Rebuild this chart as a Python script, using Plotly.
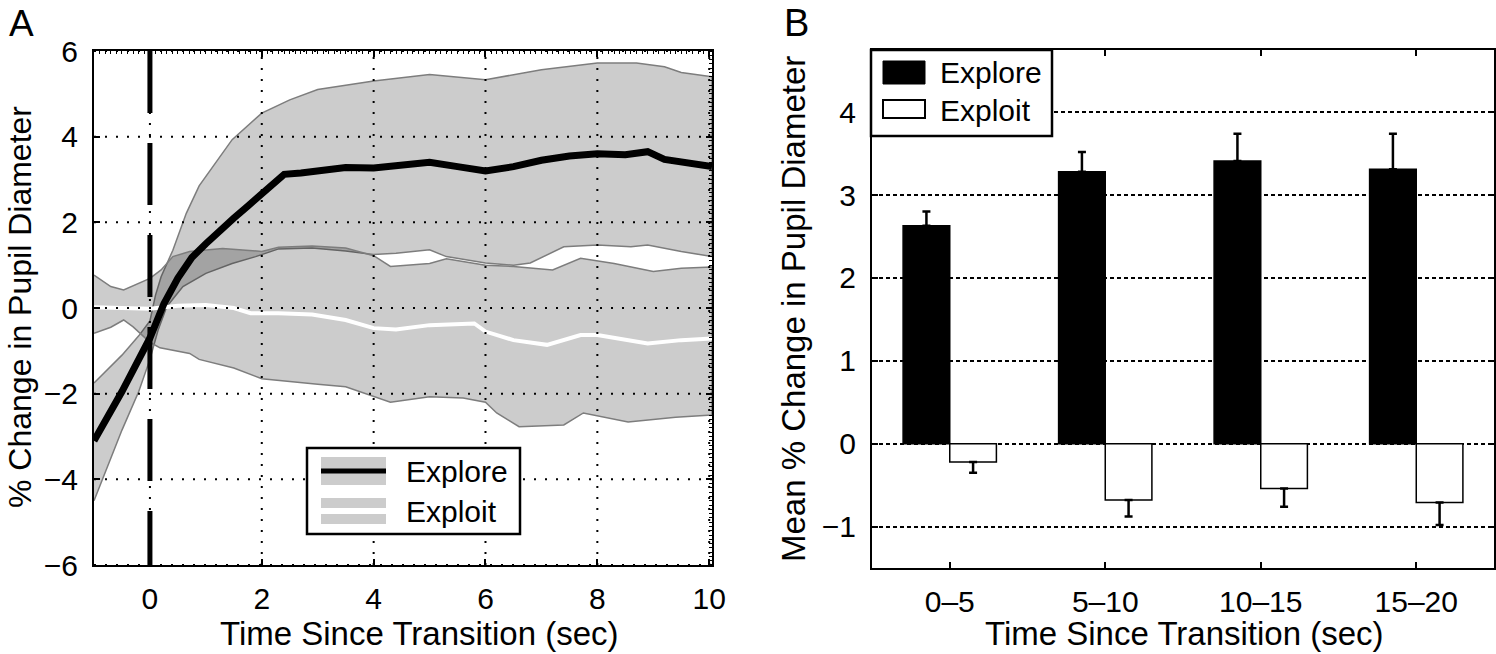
import plotly.graph_objects as go

W, H = 1496, 654
FONT = "Liberation Sans, Arial, Helvetica, sans-serif"

# ---------------- Panel A data (time since transition, % change) ----------------
T_EXPLORE_MEAN = [-1, -0.5, 0, 0.25, 0.5, 0.75, 1.0, 1.25, 1.5, 1.75, 2.0, 2.25, 2.4, 2.7, 3.0, 3.5,
                  4.0, 4.5, 5.0, 5.5, 6.0, 6.5, 7.0, 7.5, 8.0, 8.5, 8.9, 9.2, 9.6, 10.05]
EXPLORE_MEAN = [-3.1, -1.95, -0.7, 0.1, 0.7, 1.18, 1.5, 1.82, 2.1, 2.38, 2.68, 2.98, 3.12, 3.15, 3.2, 3.28,
                3.27, 3.35, 3.4, 3.3, 3.2, 3.3, 3.45, 3.55, 3.6, 3.58, 3.65, 3.47, 3.38, 3.3]

T_EXPLORE_UP = [-1, -0.5, -0.2, 0, 0.1, 0.2, 0.41, 0.65, 0.88, 1.0, 1.47, 2.0, 2.5, 3.0, 3.5, 4.0,
                5.0, 6.0, 7.0, 8.0, 8.7, 9.2, 9.5, 10.05]
EXPLORE_UP = [-1.75, -1.1, -0.65, -0.3, 0.3, 0.73, 1.35, 2.21, 2.85, 3.07, 3.93, 4.55, 4.86, 5.1, 5.2, 5.3,
              5.45, 5.33, 5.56, 5.72, 5.72, 5.63, 5.5, 5.4]

T_EXPLORE_LO = [-1, -0.5, -0.2, 0, 0.15, 0.3, 0.59, 1.0, 1.47, 1.89, 2.3, 2.9, 3.5, 4.0, 4.4, 5.0, 5.3,
                6.0, 6.5, 6.8, 7.4, 8.0, 8.6, 8.9, 9.5, 10.05]
EXPLORE_LO = [-4.5, -2.85, -1.95, -1.2, -0.5, 0.03, 0.5, 0.81, 1.04, 1.2, 1.38, 1.4, 1.33, 1.25, 1.28, 1.36, 1.2,
              1.05, 1.0, 1.05, 1.43, 1.47, 1.43, 1.47, 1.32, 1.2]

T_EXPLOIT_MEAN = [-1, -0.5, 0, 0.5, 1.0, 1.5, 1.8, 2.3, 2.9, 3.5, 4.0, 4.4, 5.0, 5.8, 6.0, 6.5, 7.1, 7.7,
                  8.0, 8.9, 9.5, 10.05]
EXPLOIT_MEAN = [0.02, 0.0, -0.02, 0.05, 0.07, 0.0, -0.12, -0.12, -0.15, -0.28, -0.47, -0.5, -0.4, -0.36, -0.55,
                -0.75, -0.86, -0.63, -0.63, -0.83, -0.75, -0.71]

T_EXPLOIT_UP = [-1, -0.7, -0.47, -0.18, 0, 0.2, 0.41, 0.71, 1.3, 2.0, 2.3, 2.9, 3.5, 4.0, 4.3, 5.0, 5.3,
                6.0, 6.5, 7.2, 7.7, 8.3, 9.0, 9.5, 10.05]
EXPLOIT_UP = [0.77, 0.5, 0.42, 0.58, 0.69, 0.89, 1.2, 1.32, 1.39, 1.32, 1.42, 1.45, 1.4, 1.22, 0.97, 1.04, 1.15,
              1.0, 0.97, 0.89, 1.16, 1.04, 0.85, 0.93, 0.96]

T_EXPLOIT_LO = [-1, -0.7, -0.47, -0.3, 0, 0.18, 0.71, 0.88, 1.5, 2.0, 3.0, 3.5, 4.0, 4.3, 5.0, 5.6, 6.0,
                6.2, 6.6, 7.4, 7.75, 8.55, 9.4, 10.05]
EXPLOIT_LO = [-0.59, -0.45, -0.28, -0.44, -0.8, -0.93, -1.06, -1.2, -1.4, -1.65, -1.78, -1.84, -2.07, -2.2,
              -2.07, -2.1, -2.2, -2.45, -2.77, -2.73, -2.45, -2.66, -2.55, -2.5]

TRANSITION_TIME = 0
A_XRANGE = [-1, 10.05]
A_YRANGE = [-6, 6]
A_XTICKS = [0, 2, 4, 6, 8, 10]
A_YTICKS = [-6, -4, -2, 0, 2, 4, 6]

# ---------------- Panel B data ----------------
CATEGORIES = ["0–5", "5–10", "10–15", "15–20"]
EXPLORE_BAR = [2.63, 3.28, 3.41, 3.31]
EXPLORE_ERR = [0.17, 0.24, 0.33, 0.43]
EXPLOIT_BAR = [-0.22, -0.68, -0.54, -0.71]
EXPLOIT_ERR = [0.13, 0.20, 0.22, 0.27]
B_YTICKS = [-1, 0, 1, 2, 3, 4]

X_TITLE = "Time Since Transition (sec)"
A_Y_TITLE = "% Change in Pupil Diameter"
B_Y_TITLE = "Mean % Change in Pupil Diameter"


def px(x):
    return x / W


def py(y):
    return 1 - y / H


fig = go.Figure()

# Bands (semi-transparent so overlaps get darker)
BAND_FILL = "rgba(0,0,0,0.2)"
EDGE = "rgb(125,125,125)"
for t_up, up, t_lo, lo in [(T_EXPLORE_UP, EXPLORE_UP, T_EXPLORE_LO, EXPLORE_LO),
                           (T_EXPLOIT_UP, EXPLOIT_UP, T_EXPLOIT_LO, EXPLOIT_LO)]:
    fig.add_trace(go.Scatter(
        x=list(t_up) + list(t_lo)[::-1], y=list(up) + list(lo)[::-1],
        fill="toself", fillcolor=BAND_FILL, mode="lines",
        line=dict(color=EDGE, width=1.5), showlegend=False, hoverinfo="skip",
        xaxis="x", yaxis="y"))

fig.add_trace(go.Scatter(x=T_EXPLOIT_MEAN, y=EXPLOIT_MEAN, mode="lines",
                         line=dict(color="white", width=4), showlegend=False,
                         xaxis="x", yaxis="y"))
fig.add_trace(go.Scatter(x=T_EXPLORE_MEAN, y=EXPLORE_MEAN, mode="lines",
                         line=dict(color="black", width=7), showlegend=False,
                         xaxis="x", yaxis="y"))
# empty trace so the top/right minor-tick axes of panel A are drawn
fig.add_trace(go.Scatter(x=[], y=[], xaxis="x3", yaxis="y3", showlegend=False, hoverinfo="skip"))

# Panel B bars
fig.add_trace(go.Bar(x=CATEGORIES, y=EXPLORE_BAR, name="Explore",
                     marker=dict(color="black", line=dict(color="black", width=1.5)),
                     error_y=dict(type="data", symmetric=False, array=EXPLORE_ERR,
                                  arrayminus=[0] * len(EXPLORE_ERR), color="black",
                                  thickness=2.5, width=4),
                     showlegend=False, xaxis="x2", yaxis="y2"))
fig.add_trace(go.Bar(x=CATEGORIES, y=EXPLOIT_BAR, name="Exploit",
                     marker=dict(color="white", line=dict(color="black", width=1.5)),
                     error_y=dict(type="data", symmetric=False, array=[0] * len(EXPLOIT_ERR),
                                  arrayminus=EXPLOIT_ERR, color="black",
                                  thickness=2.5, width=4),
                     showlegend=False, xaxis="x2", yaxis="y2"))

shapes = []
# Panel A dotted grid drawn above the bands
for v in A_XTICKS:
    shapes.append(dict(type="line", xref="x", yref="y domain", x0=v, x1=v, y0=0, y1=1,
                       line=dict(color="black", width=2, dash="2px,9px"), layer="above"))
for v in A_YTICKS:
    shapes.append(dict(type="line", xref="x domain", yref="y", x0=0, x1=1, y0=v, y1=v,
                       line=dict(color="black", width=2, dash="2px,9px"), layer="above"))
# transition marker
shapes.append(dict(type="line", xref="x", yref="y domain", x0=TRANSITION_TIME, x1=TRANSITION_TIME,
                   y0=1, y1=0, line=dict(color="black", width=5, dash="62px,30px"), layer="above"))

# Legend A (drawn manually)
shapes += [
    dict(type="rect", xref="paper", yref="paper", x0=px(307), x1=px(520), y0=py(448), y1=py(534),
         line=dict(color="black", width=2.5), fillcolor="white", layer="above"),
    dict(type="rect", xref="paper", yref="paper", x0=px(321), x1=px(386), y0=py(457), y1=py(485),
         line=dict(width=0), fillcolor="#cccccc", layer="above"),
    dict(type="line", xref="paper", yref="paper", x0=px(321), x1=px(386), y0=py(471), y1=py(471),
         line=dict(color="black", width=5), layer="above"),
    dict(type="rect", xref="paper", yref="paper", x0=px(321), x1=px(386), y0=py(498), y1=py(508),
         line=dict(width=0), fillcolor="#cccccc", layer="above"),
    dict(type="rect", xref="paper", yref="paper", x0=px(321), x1=px(386), y0=py(514), y1=py(524),
         line=dict(width=0), fillcolor="#cccccc", layer="above"),
]
# Legend B
shapes += [
    dict(type="rect", xref="paper", yref="paper", x0=px(871), x1=px(1052), y0=py(50), y1=py(136),
         line=dict(color="black", width=2.5), fillcolor="white", layer="above"),
    dict(type="rect", xref="paper", yref="paper", x0=px(883), x1=px(925), y0=py(61), y1=py(84),
         line=dict(color="black", width=1), fillcolor="black", layer="above"),
    dict(type="rect", xref="paper", yref="paper", x0=px(883), x1=px(925), y0=py(100), y1=py(118),
         line=dict(color="black", width=2), fillcolor="white", layer="above"),
]


def label(text, x, y, size=30, xanchor="left", angle=0):
    return dict(text=text, xref="paper", yref="paper", x=px(x), y=py(y), xanchor=xanchor,
                yanchor="middle", showarrow=False, textangle=angle,
                font=dict(size=size, family=FONT, color="black"))


annotations = [
    dict(text="A", xref="paper", yref="paper", x=px(7), y=py(1), xanchor="left", yanchor="top",
         showarrow=False, font=dict(size=37, family=FONT, color="black")),
    dict(text="B", xref="paper", yref="paper", x=px(782), y=py(0), xanchor="left", yanchor="top",
         showarrow=False, font=dict(size=38, family=FONT, color="black")),
    label("Explore", 404, 471),
    label("Exploit", 404, 511),
    label("Explore", 938, 72),
    label("Exploit", 938, 110),
    label(X_TITLE, 419, 633, size=33, xanchor="center"),
    label(X_TITLE, 1184, 633, size=33, xanchor="center"),
    label(A_Y_TITLE, 20, 307, size=32, xanchor="center", angle=-90),
    label(B_Y_TITLE, 794, 309, size=33, xanchor="center", angle=-90),
]

axis_common = dict(showline=True, linecolor="black", linewidth=2, mirror="ticks", ticks="inside",
                   ticklen=6, tickwidth=1.5, tickcolor="black", automargin=False,
                   tickfont=dict(size=30, family=FONT, color="black"), zeroline=False)

A_XDOM = [px(94), px(712)]
A_YDOM = [py(565), py(51)]

fig.update_layout(
    width=W, height=H, margin=dict(l=0, r=0, t=0, b=0, pad=0),
    paper_bgcolor="white", plot_bgcolor="white",
    font=dict(family=FONT, color="black"),
    barmode="group", bargap=0.4, bargroupgap=0,
    showlegend=False,
    xaxis=dict(domain=A_XDOM, range=A_XRANGE, tickvals=A_XTICKS, showgrid=False,
               ticklabelstandoff=6, anchor="y", **axis_common),
    yaxis=dict(domain=A_YDOM, range=A_YRANGE, tickvals=A_YTICKS, showgrid=False,
               ticklabelstandoff=8, anchor="x", **axis_common),
    xaxis3=dict(domain=A_XDOM, range=A_XRANGE, overlaying="x", side="top", anchor="y",
                showgrid=False, zeroline=False, showticklabels=False, showline=False,
                tickvals=A_XTICKS, ticks="inside", ticklen=6, tickwidth=1.5, tickcolor="black",
                minor=dict(tickmode="linear", tick0=0, dtick=0.1, ticks="inside", ticklen=3,
                           tickwidth=1, tickcolor="black", showgrid=False),
                automargin=False),
    yaxis3=dict(domain=A_YDOM, range=A_YRANGE, overlaying="y", side="right", anchor="x",
                showgrid=False, zeroline=False, showticklabels=False, showline=False,
                tickvals=A_YTICKS, ticks="inside", ticklen=6, tickwidth=1.5, tickcolor="black",
                minor=dict(tickmode="linear", tick0=0, dtick=0.1, ticks="inside", ticklen=3,
                           tickwidth=1, tickcolor="black", showgrid=False),
                automargin=False),
    xaxis2=dict(domain=[px(872), px(1494)], type="category", range=[-0.5, 3.5], showgrid=False,
                ticklabelstandoff=6, anchor="y2", **axis_common),
    yaxis2=dict(domain=[py(568), py(50)], range=[-1.5, 4.75], tickvals=B_YTICKS,
                showgrid=True, gridcolor="black", gridwidth=1.5, griddash="4px,3px",
                ticklabelstandoff=8, anchor="x2", **axis_common),
    shapes=shapes,
    annotations=annotations,
)

fig.write_html("out.html", config={"displayModeBar": False},
               post_script="document.body.style.margin='0px';document.body.style.overflow='hidden';")
